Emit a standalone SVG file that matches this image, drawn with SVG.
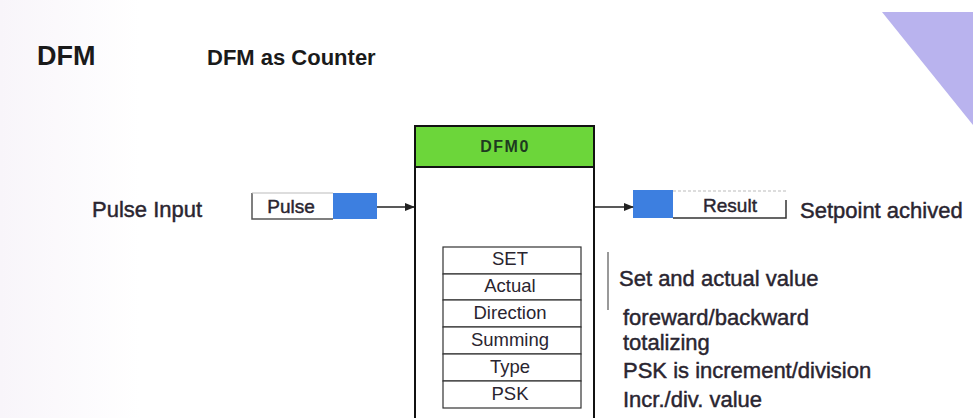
<svg xmlns="http://www.w3.org/2000/svg" width="973" height="418" viewBox="0 0 973 418">
<defs>
<marker id="arr" markerWidth="10" markerHeight="8" refX="9" refY="4" orient="auto" markerUnits="userSpaceOnUse">
<path d="M0,0 L10,4 L0,8 Z" fill="#222"/>
</marker>
<linearGradient id="fade" x1="0" y1="0" x2="1" y2="0">
<stop offset="0" stop-color="#f8f5fa"/>
<stop offset="1" stop-color="#ffffff"/>
</linearGradient>
<style>
text{font-family:"Liberation Sans",Arial,sans-serif;fill:#2a2530}
.title{font-weight:bold;fill:#1a1a1a}
.med{stroke:#2a2530;stroke-width:0.45}
.lbl{font-size:22px}
.cell{font-size:18.5px;text-anchor:middle}
.desc{font-size:22px}
.row{fill:#fff;stroke:#333;stroke-width:1.2}
.conn{stroke:#222;stroke-width:1.5;fill:none}
</style>
</defs>
<rect width="973" height="418" fill="#fff"/>
<rect x="0" y="0" width="140" height="418" fill="url(#fade)"/>
<polygon points="882,12 973,12 973,125" fill="#b9b3ee"/>

<text class="title" x="37" y="65" font-size="27">DFM</text>
<text class="title" x="207" y="65" font-size="22">DFM as Counter</text>

<g id="pulse-input-label">
<text class="lbl med" x="92" y="217">Pulse Input</text>
</g>

<g id="pulse">
<rect x="252" y="193" width="81" height="26" fill="#fff"/>
<path d="M252,193 V219 H333" stroke="#555" stroke-width="1.5" fill="none"/>
<path d="M252,193 H333" stroke="#bbb" stroke-width="1" fill="none"/>
<rect x="333" y="193" width="44" height="26" fill="#3d7fe0"/>
<text class="med" x="291" y="213" text-anchor="middle" font-size="19">Pulse</text>
</g>

<g id="dfm0">
<rect x="415" y="126" width="179" height="310" fill="#fff" stroke="#111" stroke-width="2"/>
<rect x="415" y="126" width="179" height="41" fill="#6cd63a" stroke="#111" stroke-width="2"/>
<text x="505" y="152" text-anchor="middle" font-size="16" font-weight="bold" letter-spacing="1.5" style="fill:#1e3a20">DFM0</text>
<rect class="row" x="443" y="247" width="138" height="27"/>
<rect class="row" x="443" y="274" width="138" height="26"/>
<rect class="row" x="443" y="300" width="138" height="27"/>
<rect class="row" x="443" y="327" width="138" height="27"/>
<rect class="row" x="443" y="354" width="138" height="27"/>
<rect class="row" x="443" y="381" width="138" height="27"/>
<text class="cell" x="510" y="265">SET</text>
<text class="cell" x="510" y="292">Actual</text>
<text class="cell" x="510" y="319">Direction</text>
<text class="cell" x="510" y="346">Summing</text>
<text class="cell" x="510" y="373">Type</text>
<text class="cell" x="510" y="400">PSK</text>
</g>

<g id="result">
<rect x="673" y="191" width="113" height="27" fill="#fff"/>
<path d="M673,218 H786 V200" stroke="#333" stroke-width="1.5" fill="none"/>
<path d="M673,191 H786" stroke="#bbb" stroke-width="1" stroke-dasharray="3,2" fill="none"/>
<rect x="633" y="190" width="40" height="28" fill="#3d7fe0"/>
<text class="med" x="730" y="212" text-anchor="middle" font-size="19">Result</text>
</g>

<g id="setpoint-label">
<text class="lbl med" x="800" y="218" font-size="23">Setpoint achived</text>
</g>

<g id="descriptions">
<line x1="608" y1="252" x2="608" y2="310" stroke="#555" stroke-width="1.2"/>
<text class="desc med" x="619" y="286">Set and actual value</text>
<text class="desc med" x="623" y="325">foreward/backward</text>
<text class="desc med" x="623" y="350">totalizing</text>
<text class="desc med" x="623" y="378">PSK is increment/division</text>
<text class="desc med" x="623" y="407">Incr./div. value</text>
</g>

<g id="connectors">
<line class="conn" x1="377" y1="207" x2="414" y2="207" marker-end="url(#arr)"/>
<line class="conn" x1="595" y1="207" x2="633" y2="207" marker-end="url(#arr)"/>
</g>
</svg>
